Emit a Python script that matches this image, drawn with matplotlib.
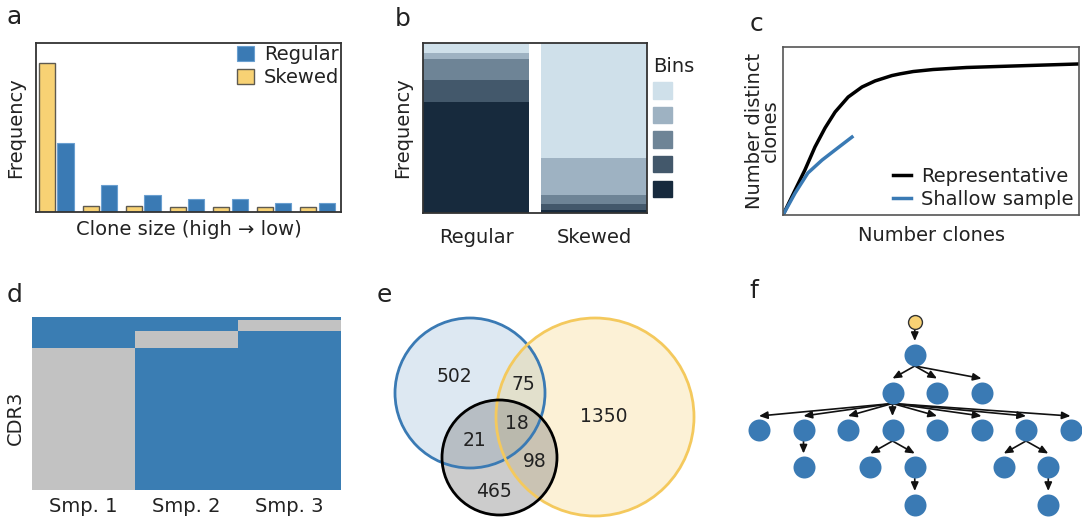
import matplotlib
matplotlib.use("Agg")
import matplotlib.pyplot as plt
import matplotlib.patches as mpatches
from matplotlib.colors import ListedColormap, to_rgba
import numpy as np

# ---- data -------------------------------------------------------------
# a: clone size distribution (relative to axis height)
skewed_freq = [0.882, 0.035, 0.035, 0.030, 0.028, 0.028, 0.028]
regular_freq = [0.406, 0.158, 0.102, 0.075, 0.075, 0.051, 0.051]

# b: stacked bin fractions, darkest bin first (bottom of the stack)
bar_names = ["Regular", "Skewed"]
regular_bins = [0.655, 0.128, 0.122, 0.039, 0.056]
skewed_bins = [0.020, 0.031, 0.053, 0.222, 0.674]
bin_colors = ["#172a3d", "#43586b", "#6e8496", "#9eb2c2", "#cfe0ea"]

# c: rarefaction curves
rep_x = [0, 0.041, 0.074, 0.108, 0.142, 0.176, 0.220, 0.267, 0.311, 0.368,
         0.395, 0.440, 0.507, 0.620, 0.726, 0.834, 1.0]
rep_y = [0, 0.149, 0.268, 0.405, 0.518, 0.613, 0.702, 0.762, 0.798, 0.830,
         0.840, 0.854, 0.866, 0.878, 0.884, 0.890, 0.899]
shallow_x = [0, 0.041, 0.084, 0.132, 0.176, 0.233]
shallow_y = [0, 0.131, 0.250, 0.327, 0.387, 0.464]

# d: CDR3 presence per sample, row groups
samples = ["Smp. 1", "Smp. 2", "Smp. 3"]
group_rows = [4, 12, 20, 164]
group_presence = [[1, 1, 1], [1, 1, 0], [1, 0, 1], [0, 1, 1]]

# e: venn layout (blue, yellow, black) and region counts
venn_cx = [90, 215, 119.5]
venn_cy = [93, 117, 157.5]
venn_r = [75, 99, 57.5]
region_counts = ["502", "75", "1350", "18", "21", "98", "465"]
region_x = [74, 143.5, 224, 136.5, 95, 155, 113.5]
region_y = [77, 85, 117, 123.5, 140, 161.5, 191.5]

# f: lineage tree (x slot, depth)
node_x = [3.5, 3.5, 3, 4, 5, 0, 1, 2, 3, 4, 5, 6, 7, 1, 2.5, 3.5, 5.5, 6.5, 3.5, 6.5]
node_y = [0.12, 1, 2, 2, 2, 3, 3, 3, 3, 3, 3, 3, 3, 4, 4, 4, 4, 4, 5, 5]
edges = [(0, 1), (1, 2), (1, 3), (1, 4),
         (2, 5), (2, 6), (2, 7), (2, 8), (2, 9), (2, 10), (2, 11), (2, 12),
         (6, 13), (8, 14), (8, 15), (11, 16), (11, 17), (15, 18), (17, 19)]

# ---- style ------------------------------------------------------------
W, H = 1082, 518
BLUE = "#3a7ab4"
YELLOW = "#f8d274"
FS = 14
plt.rcParams["font.family"] = ["DejaVu Sans"]
plt.rcParams["text.color"] = "#222222"
plt.rcParams["axes.labelcolor"] = "#222222"
plt.rcParams["xtick.color"] = "#222222"


def rect(x0, y0, x1, y1):
    return [x0 / W, 1 - y1 / H, (x1 - x0) / W, (y1 - y0) / H]


def frame(ax, color="#333333", lw=1.3):
    for s in ax.spines.values():
        s.set_color(color)
        s.set_linewidth(lw)


fig = plt.figure(figsize=(W / 100, H / 100), dpi=100)

# ---- a ----------------------------------------------------------------
ax = fig.add_axes(rect(36, 43, 341, 212))
x = np.arange(len(regular_freq))
ax.bar(x - 0.21, skewed_freq, 0.37, color=YELLOW, edgecolor="#5e5a50",
       linewidth=1, label="Skewed")
ax.bar(x + 0.21, regular_freq, 0.37, color=BLUE, edgecolor="#6a9fd0",
       linewidth=0.8, label="Regular")
ax.set_xlim(-0.467, 6.54)
ax.set_ylim(0, 1)
ax.set_xticks([])
ax.set_yticks([])
ax.set_xlabel("Clone size (high → low)", fontsize=FS, labelpad=6)
ax.set_ylabel("Frequency", fontsize=FS, labelpad=8)
frame(ax)
h, l = ax.get_legend_handles_labels()
ax.legend(h[::-1], l[::-1], loc="upper right", frameon=False, fontsize=FS,
          handlelength=0.9, handleheight=0.8, handletextpad=0.5,
          labelspacing=0.2, borderaxespad=0.1, borderpad=0.0)

# ---- b ----------------------------------------------------------------
ax = fig.add_axes(rect(423, 43, 647, 213))
bottom = np.zeros(2)
for i, col in enumerate(bin_colors):
    vals = np.array([regular_bins[i], skewed_bins[i]])
    ax.bar([0, 1], vals, 0.9, bottom=bottom, color=col)
    bottom += vals
ax.set_xlim(-0.45, 1.45)
ax.set_ylim(0, 1)
ax.set_xticks([0, 1])
ax.set_xticklabels(bar_names, fontsize=FS)
ax.tick_params(axis="x", length=0, pad=11)
ax.set_yticks([])
ax.set_ylabel("Frequency", fontsize=FS, labelpad=8)
frame(ax)
bin_handles = [mpatches.Patch(color=c) for c in bin_colors[::-1]]
ax.legend(bin_handles, [""] * 5, title="Bins", title_fontsize=FS, fontsize=FS,
          loc="upper left", bbox_to_anchor=(1.0, 0.95), frameon=False,
          handlelength=0.97, handleheight=0.93, handletextpad=0,
          labelspacing=0.29, borderaxespad=0.3, borderpad=0.0,
          alignment="left")

# ---- c ----------------------------------------------------------------
ax = fig.add_axes(rect(783, 47, 1079, 215))
ax.plot(rep_x, rep_y, color="black", lw=2.5, label="Representative",
        solid_joinstyle="round")
ax.plot(shallow_x, shallow_y, color=BLUE, lw=2.5, label="Shallow sample",
        solid_joinstyle="round")
ax.set_xlim(0, 1)
ax.set_ylim(0, 1)
ax.set_xticks([])
ax.set_yticks([])
ax.set_xlabel("Number clones", fontsize=FS, labelpad=8)
ax.set_ylabel("Number distinct\nclones", fontsize=FS, labelpad=2,
              linespacing=0.8)
frame(ax, "#555555", 1.2)
ax.legend(loc="lower right", frameon=False, fontsize=FS, handlelength=0.9,
          handletextpad=0.5, labelspacing=0.2, borderaxespad=0.2,
          borderpad=0.1)

# ---- d ----------------------------------------------------------------
ax = fig.add_axes(rect(32, 317, 341, 490))
mat = np.repeat(np.array(group_presence), group_rows, axis=0)
ax.imshow(mat, aspect="auto", interpolation="nearest",
          cmap=ListedColormap(["#c2c2c2", "#3a7db3"]), vmin=0, vmax=1)
ax.set_xticks(range(len(samples)))
ax.set_xticklabels(samples, fontsize=FS)
ax.tick_params(axis="x", length=0, pad=5)
ax.set_yticks([])
ax.set_ylabel("CDR3", fontsize=FS)
ax.yaxis.set_label_coords(-0.023, 0.415)
for s in ax.spines.values():
    s.set_visible(False)

# ---- e ----------------------------------------------------------------
ax = fig.add_axes(rect(380, 300, 700, 518))
ax.set_xlim(0, 320)
ax.set_ylim(218, 0)
ax.axis("off")
venn_cols = [BLUE, "#f4c95d", "black"]
venn_fill = [to_rgba(BLUE, 0.17), to_rgba("#f4c95d", 0.25), to_rgba("gray", 0.4)]
for cx, cy, r, fc in zip(venn_cx, venn_cy, venn_r, venn_fill):
    ax.add_patch(mpatches.Circle((cx, cy), r, facecolor=fc, edgecolor="none"))
for cx, cy, r, ec in zip(venn_cx, venn_cy, venn_r, venn_cols):
    ax.add_patch(mpatches.Circle((cx, cy), r, facecolor="none", edgecolor=ec,
                                 linewidth=2.0))
for t, tx, ty in zip(region_counts, region_x, region_y):
    ax.text(tx, ty, t, ha="center", va="center", fontsize=13.5)

# ---- f ----------------------------------------------------------------
ax = fig.add_axes(rect(740, 300, 1082, 518))
ax.set_xlim(-0.427, 7.258)
ax.set_ylim(5.347, -0.467)
ax.axis("off")
node_r = [0.187] + [0.293] * (len(node_x) - 1)
for p, c in edges:
    ax.annotate("", xy=(node_x[c], node_y[c] - node_r[c] - 0.08),
                xytext=(node_x[p], node_y[p] + node_r[p]),
                arrowprops=dict(arrowstyle="-|>,head_length=0.5,head_width=0.22",
                                color="#111111", lw=1.2, shrinkA=0, shrinkB=0),
                zorder=2)
ax.scatter(node_x[1:], node_y[1:], s=251, color=BLUE, zorder=3, linewidths=0)
ax.scatter(node_x[:1], node_y[:1], s=100, color=YELLOW, edgecolors="#333333",
           linewidths=1, zorder=3)

# ---- panel letters ------------------------------------------------------
for lab, lx, ly in [("a", 7, 24), ("b", 395, 26), ("c", 750, 31),
                    ("d", 7, 302), ("e", 377, 302), ("f", 749, 298)]:
    fig.text(lx / W, 1 - ly / H, lab, fontsize=18, ha="left", va="baseline")

fig.savefig("out.png", dpi=100)
